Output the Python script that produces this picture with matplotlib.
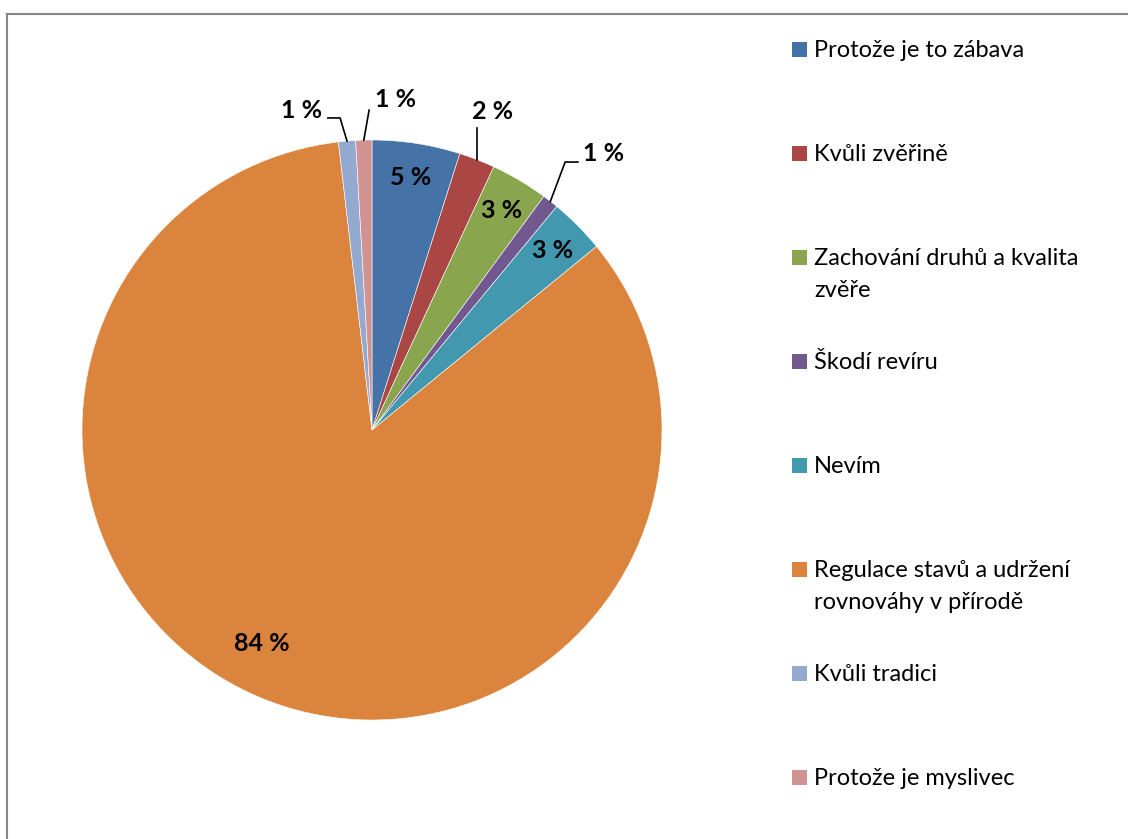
import numpy as np
import matplotlib
matplotlib.use('Agg')
import matplotlib.pyplot as plt
from matplotlib.patches import Rectangle

#data (percent of answers)
categories = ['Protože je to zábava', 'Kvůli zvěřině', 'Zachování druhů a kvalita\nzvěře',
              'Škodí revíru', 'Nevím', 'Regulace stavů a udržení\nrovnováhy v přírodě',
              'Kvůli tradici', 'Protože je myslivec']
values = [4.9, 2.0, 3.2, 0.9, 3.1, 84.1, 0.95, 0.9]
colors = ['#4572A7', '#AA4643', '#89A54E', '#71588F', '#4198AF', '#DB843D', '#93A9CF', '#D19392']

plt.rcParams['font.family'] = ['Lato', 'DejaVu Sans']

W, H = 1128, 839
fig = plt.figure(figsize=(W/100, H/100), dpi=100)

#pie centre at (372,430) px, radius 290 px
cx, cy, r = 372, 430, 290
ax = fig.add_axes([(cx-r)/W, (H-cy-r)/H, 2*r/W, 2*r/H])
wedges, _ = ax.pie(values, colors=colors, startangle=90, counterclock=False, radius=1,
                   wedgeprops=dict(edgecolor='white', linewidth=0.4))
ax.set_xlim(-1, 1)
ax.set_ylim(-1, 1)
ax.set_aspect('equal')
ax.axis('off')

total = sum(values)
pct = [str(int(round(v/total*100))) + ' %' for v in values]

#labels inside the slices (index: radius, angle shift)
inside = {0: (0.88, 0), 2: (0.88, 0), 4: (0.88, 0), 5: (0.83, -5.3)}
for i, (rr, dt) in inside.items():
    w = wedges[i]
    mid = np.radians((w.theta1 + w.theta2)/2 + dt)
    ax.text(rr*np.cos(mid), rr*np.sin(mid), pct[i], ha='center', va='center',
            fontsize=18, fontweight='bold', color='black')

#labels outside with leader lines (text pos, elbow points)
outside = {1: ((0.417, 1.097), [(None, 1.04)]),
           3: ((0.798, 0.952), [(0.666, 0.924), (0.710, 0.924)]),
           6: ((-0.244, 1.103), [(-0.110, 1.076), (-0.152, 1.076)]),
           7: ((0.082, 1.138), [(-0.010, 1.103)])}
for i, (tpos, pts) in outside.items():
    w = wedges[i]
    mid = np.radians((w.theta1 + w.theta2)/2)
    ex, ey = np.cos(mid), np.sin(mid)
    xs, ys = [ex], [ey]
    for px, py in pts:
        xs.append(ex if px is None else px)
        ys.append(py)
    ax.plot(xs, ys, color='black', lw=1.2, clip_on=False)
    ax.text(tpos[0], tpos[1], pct[i], ha='center', va='center',
            fontsize=18, fontweight='bold', color='black')

#legend drawn by hand so the square sits on the first line
lx, ly0, step, sq, lh = 792, 49, 104, 15, 32
for i, lab in enumerate(categories):
    y = ly0 + i*step
    fig.patches.append(Rectangle((lx/W, (H-y-sq/2)/H), sq/W, sq/H, transform=fig.transFigure,
                                 facecolor=colors[i], edgecolor='none'))
    for k, line in enumerate(lab.split('\n')):
        fig.text(814/W, (H-y-8-k*lh)/H, line, ha='left', va='baseline', fontsize=17,
                 color='black')

#outer frame of the chart area
fig.patches.append(Rectangle((7/W, -0.05), 1.2, (H-14)/H + 0.05, transform=fig.transFigure,
                             facecolor='none', edgecolor='#868686', lw=1.5))

fig.savefig('out.png', dpi=100)
